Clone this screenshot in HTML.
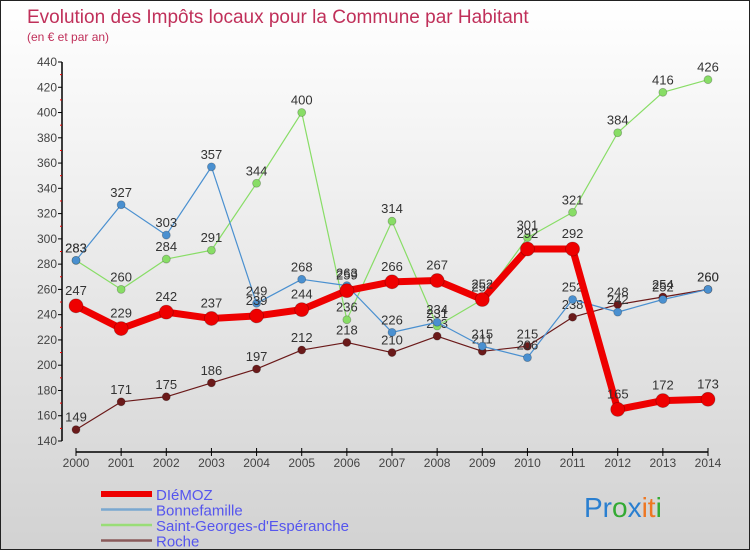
<!DOCTYPE html>
<html><head><meta charset="utf-8"><style>
body{margin:0;}
#wrap{width:748px;height:548px;border:1px solid #222;background:linear-gradient(#ffffff,#d2d2d2);position:relative;overflow:hidden;font-family:"Liberation Sans",sans-serif;}
svg{position:absolute;left:0;top:0}
</style></head><body>
<div id="wrap">
<svg id="chart" width="750" height="550"></svg>
</div>
<script>
const years=["2000","2001","2002","2003","2004","2005","2006","2007","2008","2009","2010","2011","2012","2013","2014"];
const yTicks=[140,160,180,200,220,240,260,280,300,320,340,360,380,400,420,440];
const diemoz=[247,229,242,237,239,244,259,266,267,252,292,292,165,172,173];
const bonnefamille=[283,327,303,357,249,268,263,226,234,215,206,252,242,252,260];
const saintGeorges=[283,260,284,291,344,400,236,314,231,252,301,321,384,416,426];
const roche=[149,171,175,186,197,212,218,210,223,211,215,238,248,254,260];

const NS="http://www.w3.org/2000/svg";
const svg=document.getElementById('chart');
function x(i){return 75+i*(632/14);}
function y(v){return 440-(v-140)*379/300;}
function el(t,a,p){const e=document.createElementNS(NS,t);for(const k in a)e.setAttribute(k,a[k]);(p||svg).appendChild(e);return e;}
function txt(s,a,name){const e=el('text',a);e.textContent=s;return e;}

txt("Evolution des Impôts locaux pour la Commune par Habitant",{x:26,y:22,'font-size':19,fill:'#c0305a'},'chart-title');
txt("(en € et par an)",{x:26,y:40,'font-size':12,fill:'#c0305a'},'chart-subtitle');

let ax=el('line',{x1:61,y1:61,x2:61,y2:440,stroke:'#000','stroke-width':1.5});


yTicks.forEach((v,i)=>{
  el('line',{x1:57,y1:y(v),x2:61,y2:y(v),stroke:'#000'});
  if(i<yTicks.length-1)el('line',{x1:59,y1:y(v+10),x2:61,y2:y(v+10),stroke:'#e00'});
  txt(String(v),{x:56,y:y(v)+4,'font-size':12,fill:'#444','text-anchor':'end'},'y-tick-label');
});
let xa=el('line',{x1:75,y1:451,x2:707,y2:451,stroke:'#000','stroke-width':1.5});


years.forEach((s,i)=>{
  el('line',{x1:x(i),y1:447,x2:x(i),y2:455,stroke:'#000'});
  txt(s,{x:x(i),y:466,'font-size':12,fill:'#444','text-anchor':'middle'},'x-tick-label');
});

function series(data,color,w,r,name){
  const g=el('g',{});
  
  
  const p=el('polyline',{points:data.map((v,i)=>x(i)+','+y(v)).join(' '),fill:'none',stroke:color,'stroke-width':w,'stroke-linejoin':'round'},g);
  
  
  data.forEach((v,i)=>{
    const c=el('circle',{cx:x(i),cy:y(v),r:r,fill:color,stroke:'rgba(0,0,0,0.25)','stroke-width':0.8},g);
    
    
    const l=el('text',{x:x(i),y:y(v)-r-4,'font-size':13,fill:'#333','text-anchor':'middle'},g);
    l.textContent=v;
    
    
  });
}
series(roche,'#6b1a1a',1.2,4,'roche');
series(saintGeorges,'#88dd66',1.2,4,'saint-georges');
series(bonnefamille,'#4a90d0',1.2,4,'bonnefamille');
series(diemoz,'#ee0000',7,7,'diemoz');

const leg=[["DIéMOZ","#ee0000",6],["Bonnefamille","#7aa8d0",2.5],["Saint-Georges-d'Espéranche","#99dd77",2.5],["Roche","#8a5a5a",2.5]];
leg.forEach((L,i)=>{
  const yy=493+i*15.5;
  const g=el('g',{});
  
  
  el('line',{x1:100,y1:yy,x2:151,y2:yy,stroke:L[1],'stroke-width':L[2]},g);
  const tt=el('text',{x:155,y:yy+6,'font-size':15,fill:'#5555ee'},g);
  tt.textContent=L[0];
});
const lg=el('text',{x:583,y:516,'font-size':28});


[["Pr","#2a7fd0"],["o","#33aa33"],["x","#2a7fd0"],["it","#ee7722"],["i","#33aa33"]].forEach(a=>{const s=el('tspan',{fill:a[1]},lg);s.textContent=a[0];});
</script>
</body></html>
